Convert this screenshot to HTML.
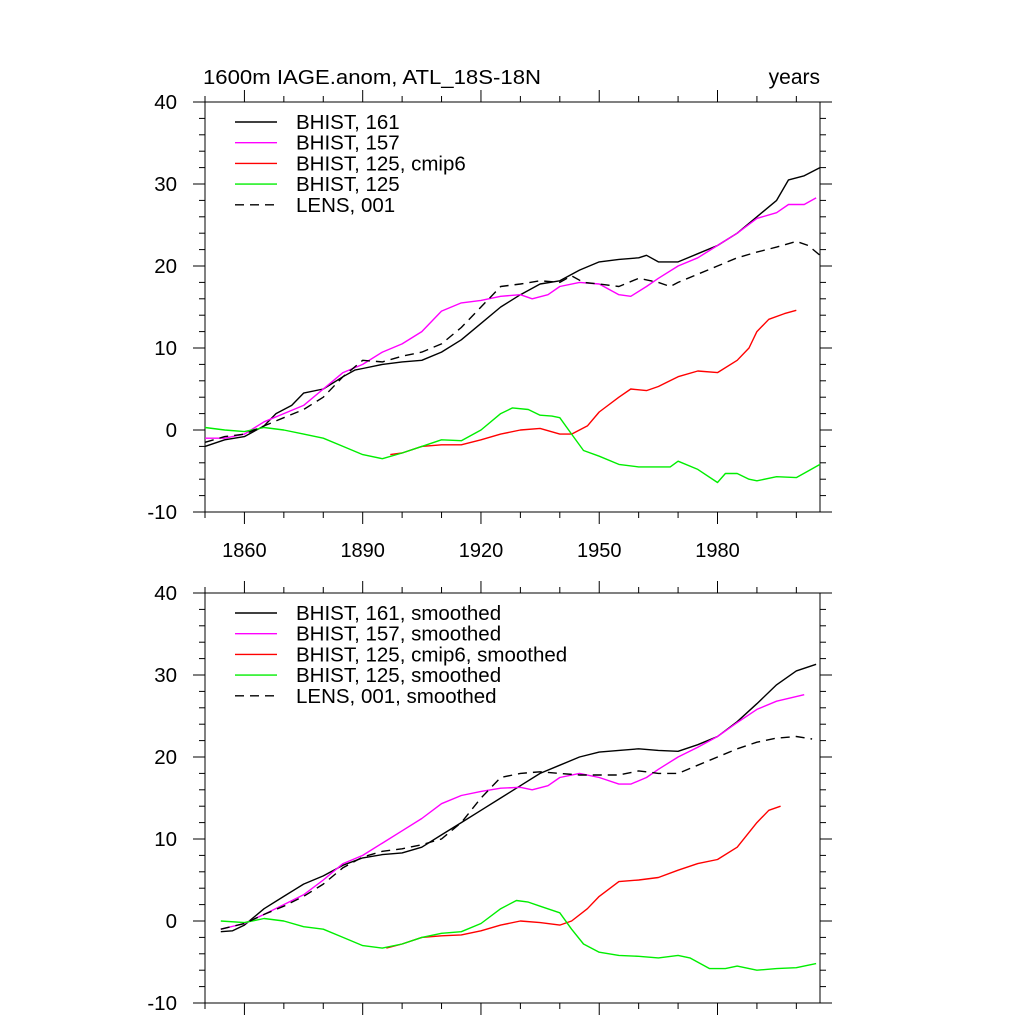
<!DOCTYPE html>
<html><head><meta charset="utf-8"><style>
body{margin:0;background:#fff}
svg text{font-family:"Liberation Sans",sans-serif;fill:#000}
</style></head><body>
<svg id="c" width="1024" height="1024" viewBox="0 0 1024 1024" xmlns="http://www.w3.org/2000/svg">
<text x="203" y="84" font-size="20" textLength="338" lengthAdjust="spacingAndGlyphs">1600m IAGE.anom, ATL_18S-18N</text>
<text x="820" y="84" font-size="21" text-anchor="end">years</text>
</svg>
<script>
// top panel (raw)
const yrBlack=[1850,1855,1860,1865,1868,1872,1875,1880,1885,1888,1890,1895,1900,1905,1910,1915,1920,1925,1930,1935,1940,1945,1950,1955,1960,1962,1965,1970,1975,1980,1985,1990,1995,1998,2002,2006];
const valBlack=[-2,-1.2,-0.8,0.5,2,3,4.5,5,6.5,7.3,7.5,8,8.3,8.5,9.5,11,13,15,16.5,17.8,18.2,19.5,20.5,20.8,21,21.3,20.5,20.5,21.5,22.5,24,26,28,30.5,31,32];
const yrMag=[1850,1855,1860,1865,1870,1875,1880,1885,1890,1895,1900,1905,1910,1915,1920,1925,1930,1933,1937,1940,1945,1950,1955,1958,1962,1965,1970,1975,1980,1985,1990,1995,1998,2002,2005];
const valMag=[-1,-1,-0.5,1,2,3,5,7,8,9.5,10.5,12,14.5,15.5,15.8,16.3,16.5,16,16.5,17.5,18,17.8,16.5,16.3,17.5,18.5,20,21,22.5,24,25.8,26.5,27.5,27.5,28.3];
const yrRed=[1897,1900,1905,1910,1915,1920,1925,1930,1935,1940,1943,1947,1950,1955,1958,1962,1965,1970,1975,1980,1985,1988,1990,1993,1997,2000];
const valRed=[-3,-2.8,-2,-1.8,-1.8,-1.2,-0.5,0,0.2,-0.5,-0.5,0.5,2.2,4,5,4.8,5.3,6.5,7.2,7,8.5,10,12,13.5,14.2,14.6];
const yrGreen=[1850,1855,1860,1865,1870,1875,1880,1885,1890,1895,1900,1905,1910,1915,1920,1925,1928,1932,1935,1938,1940,1943,1946,1950,1955,1960,1965,1968,1970,1975,1980,1982,1985,1988,1990,1995,2000,2003,2006];
const valGreen=[0.3,0,-0.2,0.3,0,-0.5,-1,-2,-3,-3.5,-2.8,-2,-1.2,-1.3,0,2,2.7,2.5,1.8,1.7,1.5,-0.5,-2.5,-3.2,-4.2,-4.5,-4.5,-4.5,-3.8,-4.8,-6.4,-5.3,-5.3,-6,-6.2,-5.7,-5.8,-5,-4.2];
const yrLens=[1850,1855,1860,1865,1870,1875,1880,1885,1890,1895,1900,1905,1910,1915,1920,1925,1930,1935,1940,1943,1946,1950,1955,1960,1965,1968,1970,1975,1980,1985,1990,1995,2000,2003,2006];
const valLens=[-1.5,-0.8,-0.5,0.5,1.5,2.5,4,6.5,8.5,8.3,9,9.5,10.5,12.5,15,17.5,17.8,18.2,18,18.8,18,17.8,17.5,18.5,18,17.5,18,19,20,21,21.7,22.3,23,22.5,21.3];
// bottom panel (smoothed)
const yrBlackS=[1854,1857,1860,1865,1870,1875,1880,1885,1890,1895,1900,1905,1910,1915,1920,1925,1930,1935,1940,1945,1950,1955,1960,1965,1970,1975,1980,1985,1990,1995,2000,2005];
const valBlackS=[-1.3,-1.2,-0.5,1.5,3,4.5,5.5,6.8,7.7,8.1,8.3,9,10.5,12,13.5,15,16.5,18,19,20,20.6,20.8,21,20.8,20.7,21.5,22.5,24.3,26.5,28.8,30.5,31.3];
const yrMagS=[1854,1860,1865,1870,1875,1880,1885,1890,1895,1900,1905,1910,1915,1920,1925,1930,1933,1937,1940,1945,1950,1955,1958,1962,1965,1970,1975,1980,1985,1990,1995,2002];
const valMagS=[-1,-0.3,0.8,2,3.2,5,7,8,9.5,11,12.5,14.3,15.3,15.8,16.2,16.3,16,16.5,17.5,18,17.5,16.7,16.7,17.5,18.5,20,21.2,22.5,24.2,25.8,26.8,27.6];
const yrRedS=[1896,1900,1905,1910,1915,1920,1925,1930,1935,1940,1943,1947,1950,1955,1960,1965,1970,1975,1980,1985,1990,1993,1996];
const valRedS=[-3.3,-2.8,-2,-1.8,-1.7,-1.2,-0.5,0,-0.2,-0.5,0,1.5,3,4.8,5,5.3,6.2,7,7.5,9,12,13.5,14];
const yrGreenS=[1854,1860,1865,1870,1875,1880,1885,1890,1895,1900,1905,1910,1915,1920,1925,1929,1932,1935,1940,1943,1946,1950,1955,1960,1965,1970,1973,1978,1982,1985,1990,1995,2000,2005];
const valGreenS=[0,-0.2,0.3,0,-0.7,-1,-2,-3,-3.3,-2.8,-2,-1.5,-1.3,-0.3,1.5,2.5,2.3,1.8,1,-1,-2.8,-3.8,-4.2,-4.3,-4.5,-4.2,-4.5,-5.8,-5.8,-5.5,-6,-5.8,-5.7,-5.2];
const yrLensS=[1854,1860,1865,1870,1875,1880,1885,1890,1895,1900,1905,1910,1915,1920,1925,1930,1935,1940,1945,1950,1955,1960,1965,1970,1975,1980,1985,1990,1995,2000,2004];
const valLensS=[-1,-0.3,0.8,1.8,3,4.5,6.5,7.8,8.5,8.8,9.3,10,12,15,17.5,18,18.2,18,17.8,17.8,17.8,18.3,18,18,19,20,21,21.8,22.3,22.5,22.2];
const yTicks=[-10,0,10,20,30,40];
const xTickLabels=[1860,1890,1920,1950,1980];

const NS="http://www.w3.org/2000/svg";
const svg=document.getElementById('c');
const X0=205,X1=820,XMIN=1850,XMAX=2006;
function xs(v){return X0+(v-XMIN)/(XMAX-XMIN)*(X1-X0);}
function mk(t,a,p){const e=document.createElementNS(NS,t);for(const k in a)e.setAttribute(k,a[k]);(p||svg).appendChild(e);return e;}

function panel(top,bot,showX,series,labels,pname){
  const ys=v=>bot-(v+10)/50*(bot-top);
  const g=mk('g',{});
  
  
  const f=mk('rect',{x:X0,y:top,width:X1-X0,height:bot-top,fill:'none',stroke:'#000','stroke-width':1},g);
  
  
  for(let v=-10;v<=40;v+=2){const maj=v%10===0;const L=maj?12:6;const y=ys(v);
    mk('line',{x1:X0-L,y1:y,x2:X0,y2:y,stroke:'#000'},g);
    mk('line',{x1:X1,y1:y,x2:X1+L,y2:y,stroke:'#000'},g);}
  yTicks.forEach(v=>{const t=mk('text',{x:X0-28,y:ys(v)+7,'font-size':20.5,'text-anchor':'end'},g);t.textContent=v;
    
    });
  for(let yr=1850;yr<=2006;yr+=10){const maj=(yr-1860)%30===0;const L=maj?12:6;const x=xs(yr);
    mk('line',{x1:x,y1:bot,x2:x,y2:bot+L,stroke:'#000'},g);
    mk('line',{x1:x,y1:top-L,x2:x,y2:top,stroke:'#000'},g);}
  if(showX)xTickLabels.forEach(v=>{const t=mk('text',{x:xs(v),y:bot+45,'font-size':20,'text-anchor':'middle'},g);t.textContent=v;
    
    });
  series.forEach((s,i)=>{
    const pts=s.yr.map((yr,j)=>xs(yr).toFixed(1)+','+ys(s.v[j]).toFixed(1)).join(' ');
    const pl=mk('polyline',{points:pts,fill:'none',stroke:s.c,'stroke-width':1.4,'stroke-linejoin':'round','stroke-dasharray':s.d||'none'},g);
    
    
    const ly=top+20+i*20.7;
    const ll=mk('line',{x1:235,y1:ly,x2:277,y2:ly,stroke:s.c,'stroke-width':1.4,'stroke-dasharray':s.d?'9,6':'none'},g);
    
    
    const lt=mk('text',{x:296,y:ly+7,'font-size':20.5},g);lt.textContent=labels[i];
    
    
  });
}
panel(102,512,true,[
 {yr:yrBlack,v:valBlack,c:'#000',n:'bhist-161'},
 {yr:yrMag,v:valMag,c:'#ff00ff',n:'bhist-157'},
 {yr:yrRed,v:valRed,c:'#ff0000',n:'bhist-125-cmip6'},
 {yr:yrGreen,v:valGreen,c:'#00ee00',n:'bhist-125'},
 {yr:yrLens,v:valLens,c:'#000',d:'9,6',n:'lens-001'}],
 ['BHIST, 161','BHIST, 157','BHIST, 125, cmip6','BHIST, 125','LENS, 001'],'top-panel');
panel(593,1003,false,[
 {yr:yrBlackS,v:valBlackS,c:'#000',n:'bhist-161-smoothed'},
 {yr:yrMagS,v:valMagS,c:'#ff00ff',n:'bhist-157-smoothed'},
 {yr:yrRedS,v:valRedS,c:'#ff0000',n:'bhist-125-cmip6-smoothed'},
 {yr:yrGreenS,v:valGreenS,c:'#00ee00',n:'bhist-125-smoothed'},
 {yr:yrLensS,v:valLensS,c:'#000',d:'9,6',n:'lens-001-smoothed'}],
 ['BHIST, 161, smoothed','BHIST, 157, smoothed','BHIST, 125, cmip6, smoothed','BHIST, 125, smoothed','LENS, 001, smoothed'],'bottom-panel');
</script>
</body></html>
